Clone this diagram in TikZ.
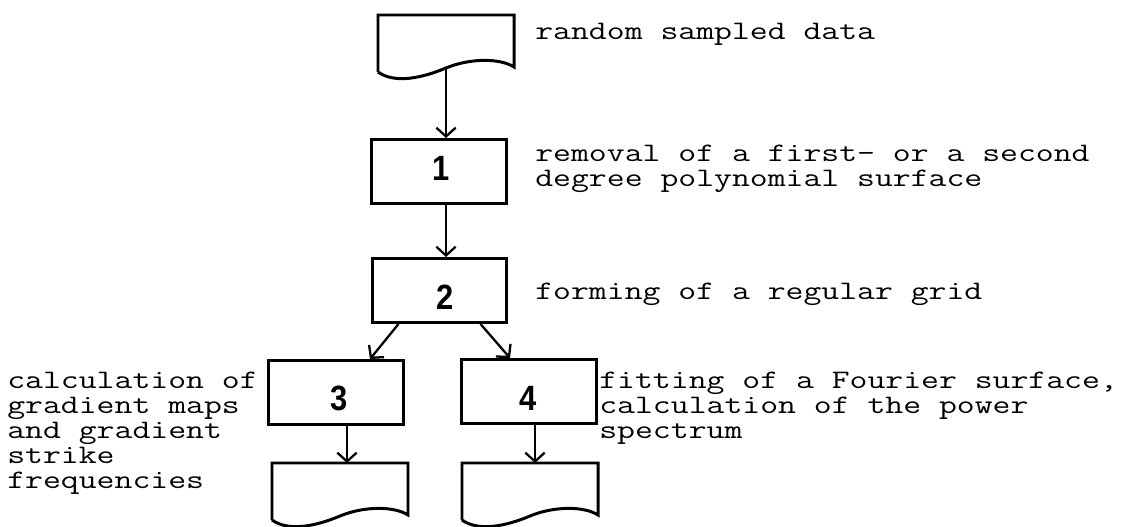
\documentclass[tikz,border=0pt]{standalone}
\usepackage{fontspec}
\newfontfamily\numfont{Liberation Sans}
\usetikzlibrary{arrows.meta,calc}
\newcommand\tw[1]{\scalebox{1.3}[1]{#1}}
\newcommand\dg[1]{\scalebox{0.88}[1]{#1}}
\newcommand\docshape[2]{\draw[docline, shift={(#1,#2)}] (0,57) -- (0,0) -- (136,0) -- (136,52) .. controls (122,43) and (92,43) .. (68,53) .. controls (44,63) and (17,69) .. (0,57);}
\begin{document}
\begin{tikzpicture}[x=0.02cm, y=-0.02cm,
  boxn/.style={draw, line width=1.7pt, minimum width=2.7cm, minimum height=1.28cm, inner sep=0},
  docn/.style={minimum width=2.72cm, minimum height=1.04cm, inner sep=0, anchor=north west},
  digit/.style={font=\numfont\bfseries\fontsize{20}{20}\selectfont, inner sep=0},
  txt/.style={anchor=base west, inner sep=0, font=\ttfamily\fontsize{15.2}{14}\selectfont},
  arr/.style={line width=1.3pt, -{Straight Barb[length=5pt,width=11pt]}},
  docline/.style={line width=1.7pt, line join=miter}]
\path[fill=white, use as bounding box] (0,0) rectangle (1129,527);

% documents
\docshape{378}{15}
\node[docn] (d1) at (378,15) {};
\docshape{272}{463}
\node[docn] (d3) at (272,463) {};
\docshape{462}{463}
\node[docn] (d4) at (462,463) {};

% boxes
\node[boxn] (b1) at (439,171.5) {};
\node[boxn] (b2) at (439.5,290.5) {};
\node[boxn] (b3) at (336,392.5) {};
\node[boxn] (b4) at (529,391.5) {};

% digits
\node[digit] (n1) at (441,168) {\dg{1}};
\node[digit] (n2) at (445,297) {\dg{2}};
\node[digit] (n3) at (339,398) {\dg{3}};
\node[digit] (n4) at (528,398) {\dg{4}};

% connectors
\coordinate (d1w) at (446,68);
\draw[arr] (d1w) -- (d1w |- b1.north);
\draw[arr] (d1w |- b1.south) -- (d1w |- b2.north);
\draw[arr] ($(b2.south west)+(28,0)$) -- ($(b3.north)+(34,0)$);
\draw[arr] ($(b2.south east)+(-28,0)$) -- ($(b4.north)+(-19,0)$);
\coordinate (a3) at ($(b3.south)+(11,0)$);
\coordinate (a4) at ($(b4.south)+(6,0)$);
\draw[arr] (a3) -- (a3 |- d3.north);
\draw[arr] (a4) -- (a4 |- d4.north);

% texts
\node[txt] (t1) at (535,40) {\tw{random sampled data}};
\node[txt] (t2a) at (535,161) {\tw{removal of a first- or a second}};
\node[txt] (t2b) at (535,186) {\tw{degree polynomial surface}};
\node[txt] (t3) at (535,299) {\tw{forming of a regular grid}};
\node[txt] (t4a) at (599,388) {\tw{fitting of a Fourier surface,}};
\node[txt] (t4b) at (599,413) {\tw{calculation of the power}};
\node[txt] (t4c) at (599,438) {\tw{spectrum}};
\node[txt] (t5a) at (7,388) {\tw{calculation of}};
\node[txt] (t5b) at (7,413) {\tw{gradient maps}};
\node[txt] (t5c) at (7,438) {\tw{and gradient}};
\node[txt] (t5d) at (7,463) {\tw{strike}};
\node[txt] (t5e) at (7,488) {\tw{frequencies}};
\end{tikzpicture}
\end{document}
